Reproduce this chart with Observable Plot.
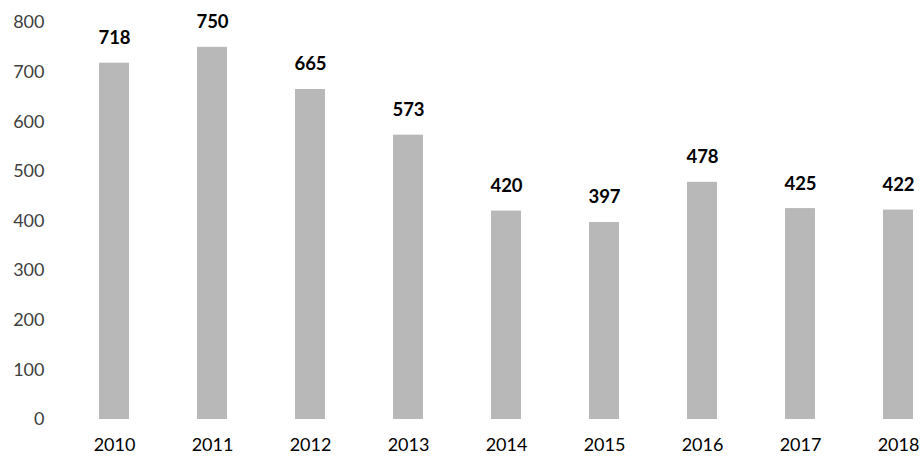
<!DOCTYPE html>
<html>
<head>
<meta charset="utf-8">
<script src="https://cdn.jsdelivr.net/npm/d3@7"></script>
<script src="https://cdn.jsdelivr.net/npm/@observablehq/plot@0.6"></script>
<style>
  html, body { margin: 0; padding: 0; background: #fff; }
  #chart svg { display: block; }
</style>
</head>
<body>
<div id="chart"></div>
<script>
const years = ["2010", "2011", "2012", "2013", "2014", "2015", "2016", "2017", "2018"];
const values = [718, 750, 665, 573, 420, 397, 478, 425, 422];
const yTicks = [0, 100, 200, 300, 400, 500, 600, 700, 800];

const data = years.map((year, i) => ({year, value: values[i]}));

const chart = Plot.plot({
  width: 923,
  height: 456,
  marginTop: 22,
  marginBottom: 37,
  marginLeft: 48,
  marginRight: 10,
  style: {fontFamily: "Lato, sans-serif", fontSize: "18px", background: "#fff"},
  x: {domain: years, paddingInner: 0.69, paddingOuter: 0.254, align: 1, label: null},
  y: {domain: [0, 800], label: null},
  marks: [
    Plot.barY(data, {x: "year", y: "value", fill: "#b8b8b8"}),
    Plot.text(data, {x: "year", y: "value", text: d => String(d.value), dy: -25, fontWeight: "bold", fontSize: 18.5, fill: "#000"}),
    Plot.axisY({ticks: yTicks, tickSize: 0, tickPadding: 4, fontSize: 18, color: "#404040", label: null}),
    Plot.axisX({tickSize: 0, tickPadding: 19, fontSize: 18, color: "#000", label: null})
  ]
});
document.getElementById("chart").appendChild(chart);
</script>
</body>
</html>
